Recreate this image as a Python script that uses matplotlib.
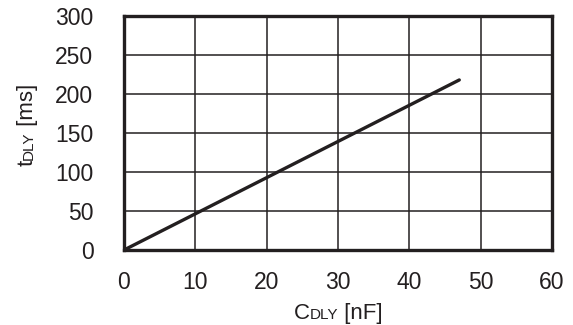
import numpy as np
import matplotlib
matplotlib.use("Agg")
import matplotlib.pyplot as plt
from matplotlib.transforms import IdentityTransform

plt.rcParams['font.family'] = ['Liberation Sans', 'DejaVu Sans']

# data
c_dly = [0, 47]          # nF
t_dly = [0, 218]         # ms
x_ticks = [0, 10, 20, 30, 40, 50, 60]
y_ticks = [0, 50, 100, 150, 200, 250, 300]

fig = plt.figure(figsize=(5.73, 3.25), dpi=100)
ax = fig.add_axes([124 / 573, 75 / 325, 428 / 573, 234 / 325])

ax.plot(c_dly, t_dly, color='#231f20', lw=2.4, solid_capstyle='round', zorder=3)

ax.set_xlim(0, 60)
ax.set_ylim(0, 300)
ax.set_xticks(x_ticks)
ax.set_yticks(y_ticks)
ax.grid(True, color='#231f20', lw=1.1)
ax.tick_params(length=0, labelsize=16.5, colors='#231f20')
ax.tick_params(axis='y', pad=22)
ax.tick_params(axis='x', pad=15)
for s in ax.spines.values():
    s.set_linewidth(2.4)
    s.set_color('#231f20')

# axis labels with small-caps style subscript on the baseline
fig.canvas.draw()
r = fig.canvas.get_renderer()


def widths(parts):
    out = []
    for txt, size in parts:
        t = fig.text(0, 0, txt, fontsize=size, transform=IdentityTransform())
        out.append(t.get_window_extent(r).width)
        t.remove()
    return out


def label(parts, cx, cy, rotation=0):
    w = widths(parts)
    total = sum(w)
    pos = -total / 2
    for (txt, size), wi in zip(parts, w):
        if rotation:
            x, y = cx, cy + pos
        else:
            x, y = cx + pos, cy
        fig.text(x, y, txt, fontsize=size, rotation=rotation, rotation_mode='anchor',
                 ha='left', va='baseline', color='#231f20', transform=IdentityTransform())
        pos += wi


label([('C', 16), ('DLY', 11), (' [nF]', 16)], 338, 6)
label([('t', 16), ('DLY', 11), (' [ms]', 16)], 33, 200, rotation=90)

fig.savefig('out.png', dpi=100)
